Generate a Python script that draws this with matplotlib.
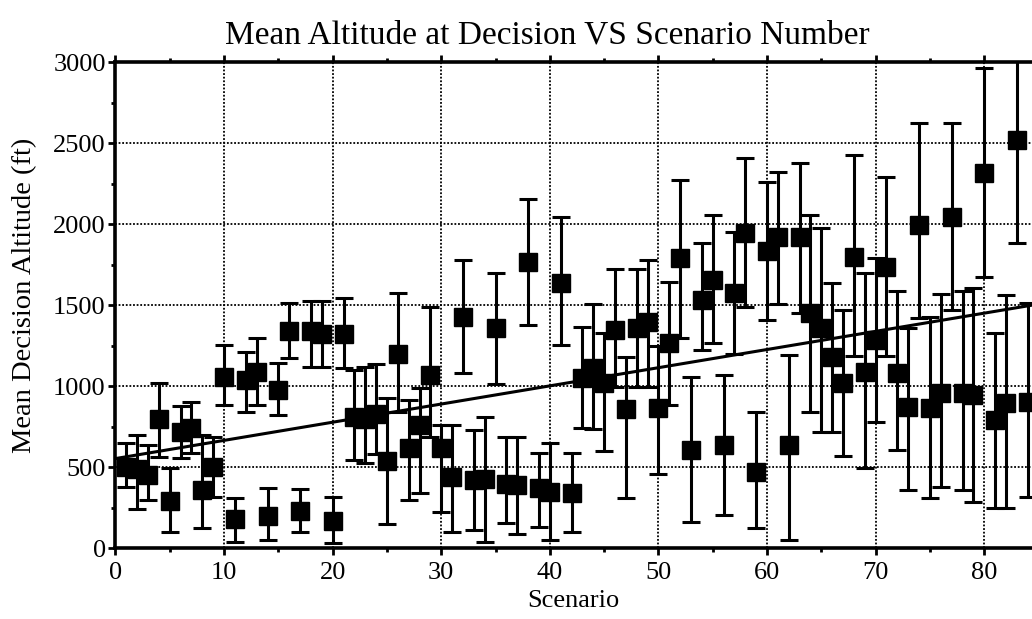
import numpy as np
import matplotlib
matplotlib.use("Agg")
import matplotlib.pyplot as plt
from matplotlib.ticker import MultipleLocator

scenario = list(range(1, 85))
mean_alt = [500, 490, 450, 800, 290, 720, 740, 360, 500, 1060,
            180, 1040, 1090, 200, 980, 1340, 230, 1340, 1320, 170,
            1320, 810, 800, 830, 540, 1200, 620, 760, 1070, 617,
            440, 1430, 420, 430, 1360, 400, 390, 1770, 370, 350,
            1640, 340, 1050, 1110, 1020, 1347, 860, 1360, 1400, 864,
            1265, 1790, 607, 1533, 1656, 638, 1574, 1944, 473, 1836,
            1919, 638, 1919, 1455, 1360, 1183, 1023, 1800, 1090, 1286,
            1738, 1080, 874, 1996, 864, 957, 2047, 957, 946, 2315,
            792, 895, 2520, 905]
err_low = [380, 240, 300, 565, 103, 555, 590, 123, 319, 885,
           41, 843, 885, 51, 823, 1173, 103, 1121, 1121, 35,
           1111, 545, 525, 580, 150, 843, 298, 340, 690, 226,
           103, 1084, 113, 37, 1014, 154, 88, 1378, 133, 51,
           1255, 103, 740, 734, 602, 998, 309, 998, 998, 459,
           885, 1296, 164, 1224, 1265, 206, 1200, 1491, 123, 1411,
           1509, 51, 1450, 843, 720, 720, 570, 1190, 494, 781,
           1190, 607, 360, 1420, 312, 380, 1470, 360, 288, 1677,
           247, 247, 1883, 319]
err_high = [650, 700, 640, 1018, 494, 878, 905, 699, 690, 1255,
            309, 1214, 1296, 370, 1142, 1512, 364, 1528, 1528, 319,
            1543, 1100, 1121, 1140, 930, 1574, 915, 990, 1491, 761,
            761, 1780, 730, 809, 1698, 685, 685, 2154, 586, 652,
            2047, 586, 1368, 1508, 1330, 1722, 1180, 1722, 1780, 1250,
            1646, 2274, 1056, 1883, 2057, 1070, 1954, 2411, 843, 2263,
            2325, 1193, 2376, 2057, 1980, 1640, 1471, 2428, 1698, 1790,
            2294, 1588, 1360, 2623, 1430, 1568, 2623, 1588, 1605, 2967,
            1327, 1564, 3160, 1512]

x_ticks = [0, 10, 20, 30, 40, 50, 60, 70, 80]
y_ticks = [0, 500, 1000, 1500, 2000, 2500, 3000]

x = np.array(scenario, dtype=float)
y = np.array(mean_alt, dtype=float)
lo = y - np.array(err_low, dtype=float)
hi = np.array(err_high, dtype=float) - y

plt.rcParams['font.family'] = ['Liberation Serif', 'DejaVu Serif']

fig = plt.figure(figsize=(10.32, 6.19), dpi=100)
ax = fig.add_axes([0.1119, 0.1142, 0.8881, 0.7851])

for v in x_ticks[1:]:
    ax.axvline(v, color='black', linestyle=(0, (1, 1)), linewidth=1.3, zorder=1)
for v in y_ticks[1:-1]:
    ax.axhline(v, color='black', linestyle=(0, (1, 1)), linewidth=1.3, zorder=1)

ax.errorbar(x, y, yerr=[lo, hi], fmt='s', color='black', markersize=13.5,
            elinewidth=2.2, capsize=6.5, capthick=2.2, zorder=3)

coef = np.polyfit(x, y, 1)
xl = np.array([0, 84.4])
ax.plot(xl, np.polyval(coef, xl), color='black', linewidth=2.2, zorder=4)

ax.set_xlim(0, 84.4)
ax.set_ylim(0, 3000)
ax.set_xticks(x_ticks)
ax.set_yticks(y_ticks)
ax.xaxis.set_minor_locator(MultipleLocator(5))
ax.yaxis.set_minor_locator(MultipleLocator(250))
ax.tick_params(which='both', direction='out', top=True, right=False,
               width=2, labelsize=19)
ax.tick_params(which='major', length=5)
ax.tick_params(which='minor', length=3)
ax.tick_params(axis='x', which='both', top=True, labeltop=False, pad=5)
ax.tick_params(axis='y', which='both', pad=2)

for s in ['left', 'bottom', 'top']:
    ax.spines[s].set_linewidth(2.6)
ax.spines['right'].set_visible(False)

fig.text(0.5305, 1 - 43 / 619, 'Mean Altitude at Decision VS Scenario Number',
         fontsize=24, ha='center', va='baseline')
ax.set_xlabel('Scenario', fontsize=19, labelpad=4)
ax.set_ylabel('Mean Decision Altitude (ft)', fontsize=20.5)
ax.yaxis.set_label_coords(-0.0856, 0.52)

fig.savefig('out.png', dpi=100)
